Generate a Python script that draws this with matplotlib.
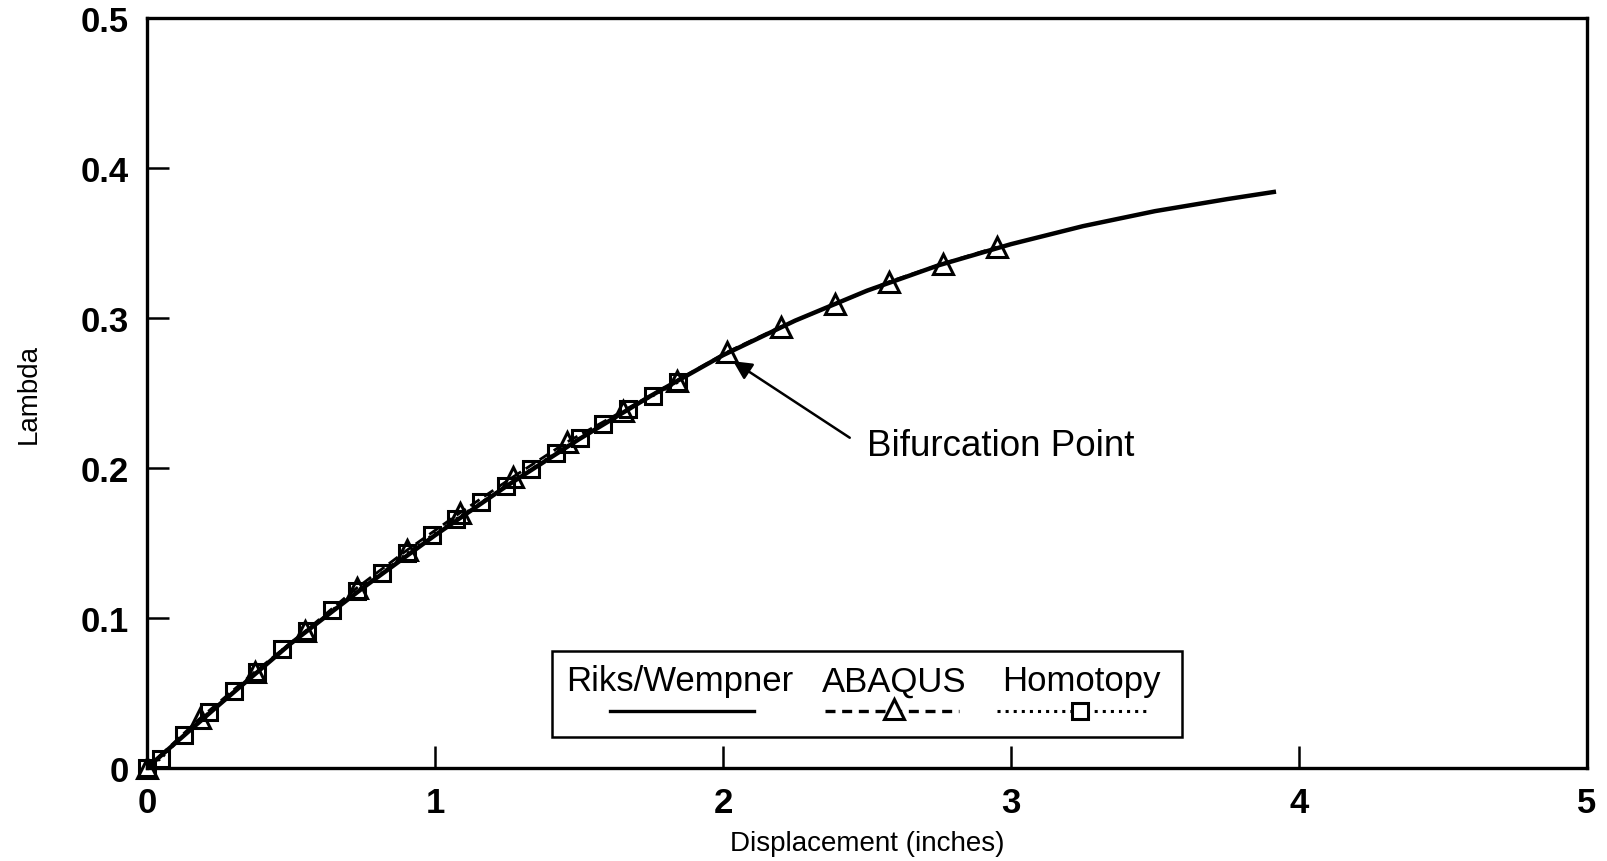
import matplotlib
matplotlib.use("Agg")
import matplotlib.pyplot as plt

plt.rcParams['font.family'] = ['Liberation Sans', 'DejaVu Sans']

# Riks/Wempner arc-length path (solid)
riks_x = [0, 0.25, 0.5, 0.75, 1.0, 1.25, 1.5, 1.75, 2.0, 2.25, 2.5, 2.75, 3.0, 3.25, 3.5, 3.75, 3.92]
riks_y = [0, 0.042, 0.083, 0.120, 0.155, 0.188, 0.219, 0.248, 0.275, 0.298, 0.318, 0.335, 0.349, 0.361, 0.371, 0.379, 0.384]

# ABAQUS increments (dashed, triangles)
abaqus_x = [0, 0.184, 0.375, 0.549, 0.729, 0.902, 1.087, 1.272, 1.457, 1.654, 1.839,
            2.013, 2.201, 2.389, 2.577, 2.763, 2.950]
abaqus_y = [0, 0.033, 0.064, 0.091, 0.120, 0.145, 0.170, 0.194, 0.217, 0.238, 0.258,
            0.277, 0.294, 0.309, 0.324, 0.336, 0.347]

# Homotopy steps (dotted, squares)
homotopy_x = [0, 0.048, 0.128, 0.214, 0.302, 0.383, 0.470, 0.555, 0.641, 0.728, 0.815,
              0.902, 0.989, 1.073, 1.160, 1.247, 1.333, 1.419, 1.503, 1.584, 1.671, 1.758, 1.845]
homotopy_y = [0, 0.006, 0.022, 0.037, 0.051, 0.064, 0.079, 0.091, 0.105, 0.118, 0.130,
              0.143, 0.155, 0.166, 0.177, 0.188, 0.199, 0.210, 0.220, 0.229, 0.239, 0.248, 0.257]

x_ticks = [0, 1, 2, 3, 4, 5]
y_ticks = [0, 0.1, 0.2, 0.3, 0.4, 0.5]
y_tick_labels = ['0', '0.1', '0.2', '0.3', '0.4', '0.5']

bif_point = (2.035, 0.271)

fig = plt.figure(figsize=(16.08, 8.62), dpi=100)
ax = fig.add_axes([0.0914, 0.108, 0.8956, 0.8705])

ax.plot(riks_x, riks_y, color='black', lw=3.2, solid_capstyle='butt')
ax.plot(abaqus_x, abaqus_y, color='black', lw=2.0, ls=(0, (4, 2)),
        marker='^', ms=14, mfc='none', mec='black', mew=2.2, clip_on=False)
ax.plot(homotopy_x, homotopy_y, color='black', lw=1.8, ls=':',
        marker='s', ms=12, mfc='none', mec='black', mew=2.2, clip_on=False)

ax.set_xlim(0, 5)
ax.set_ylim(0, 0.5)
ax.set_xticks(x_ticks)
ax.set_xticklabels([str(t) for t in x_ticks])
ax.set_yticks(y_ticks)
ax.set_yticklabels(y_tick_labels)
ax.tick_params(direction='in', length=16, width=1.8, labelsize=25, pad=13,
               top=False, right=False)
for lab in ax.get_xticklabels() + ax.get_yticklabels():
    lab.set_fontweight('bold')
for sp in ax.spines.values():
    sp.set_linewidth(2.4)

ax.set_xlabel('Displacement (inches)', fontsize=20, labelpad=8)
ax.set_ylabel('Lambda', fontsize=20, labelpad=28)

# bifurcation annotation
ax.annotate('', xy=bif_point, xytext=(2.44, 0.220),
            arrowprops=dict(arrowstyle='-|>', color='black', lw=1.8,
                            mutation_scale=28, shrinkA=0, shrinkB=0))
ax.text(2.50, 0.215, 'Bifurcation Point', fontsize=26.5, ha='left', va='center')

# legend box: names above, line samples below
tr = ax.transAxes
ax.add_patch(plt.Rectangle((0.281, 0.041), 0.438, 0.115, transform=tr,
                           fill=False, lw=1.8, ec='black', zorder=5))
ax.text(0.370, 0.116, 'Riks/Wempner', transform=tr, fontsize=25, ha='center', va='center')
ax.text(0.519, 0.116, 'ABAQUS', transform=tr, fontsize=25, ha='center', va='center')
ax.text(0.649, 0.116, 'Homotopy', transform=tr, fontsize=25, ha='center', va='center')
ax.plot([0.3215, 0.4215], [0.076, 0.076], transform=tr, color='black', lw=2.4, clip_on=False)
ax.plot([0.471, 0.564], [0.076, 0.076], transform=tr, color='black', lw=2.4,
        ls=(0, (3, 2)), clip_on=False)
ax.plot([0.519], [0.078], transform=tr, marker='^', ms=14, mfc='white', mec='black',
        mew=2.2, clip_on=False)
ax.plot([0.590, 0.695], [0.076, 0.076], transform=tr, color='black', lw=2.2, ls=':',
        clip_on=False)
ax.plot([0.648], [0.076], transform=tr, marker='s', ms=12, mfc='white', mec='black',
        mew=2.2, clip_on=False)

fig.savefig('out.png', dpi=100)
